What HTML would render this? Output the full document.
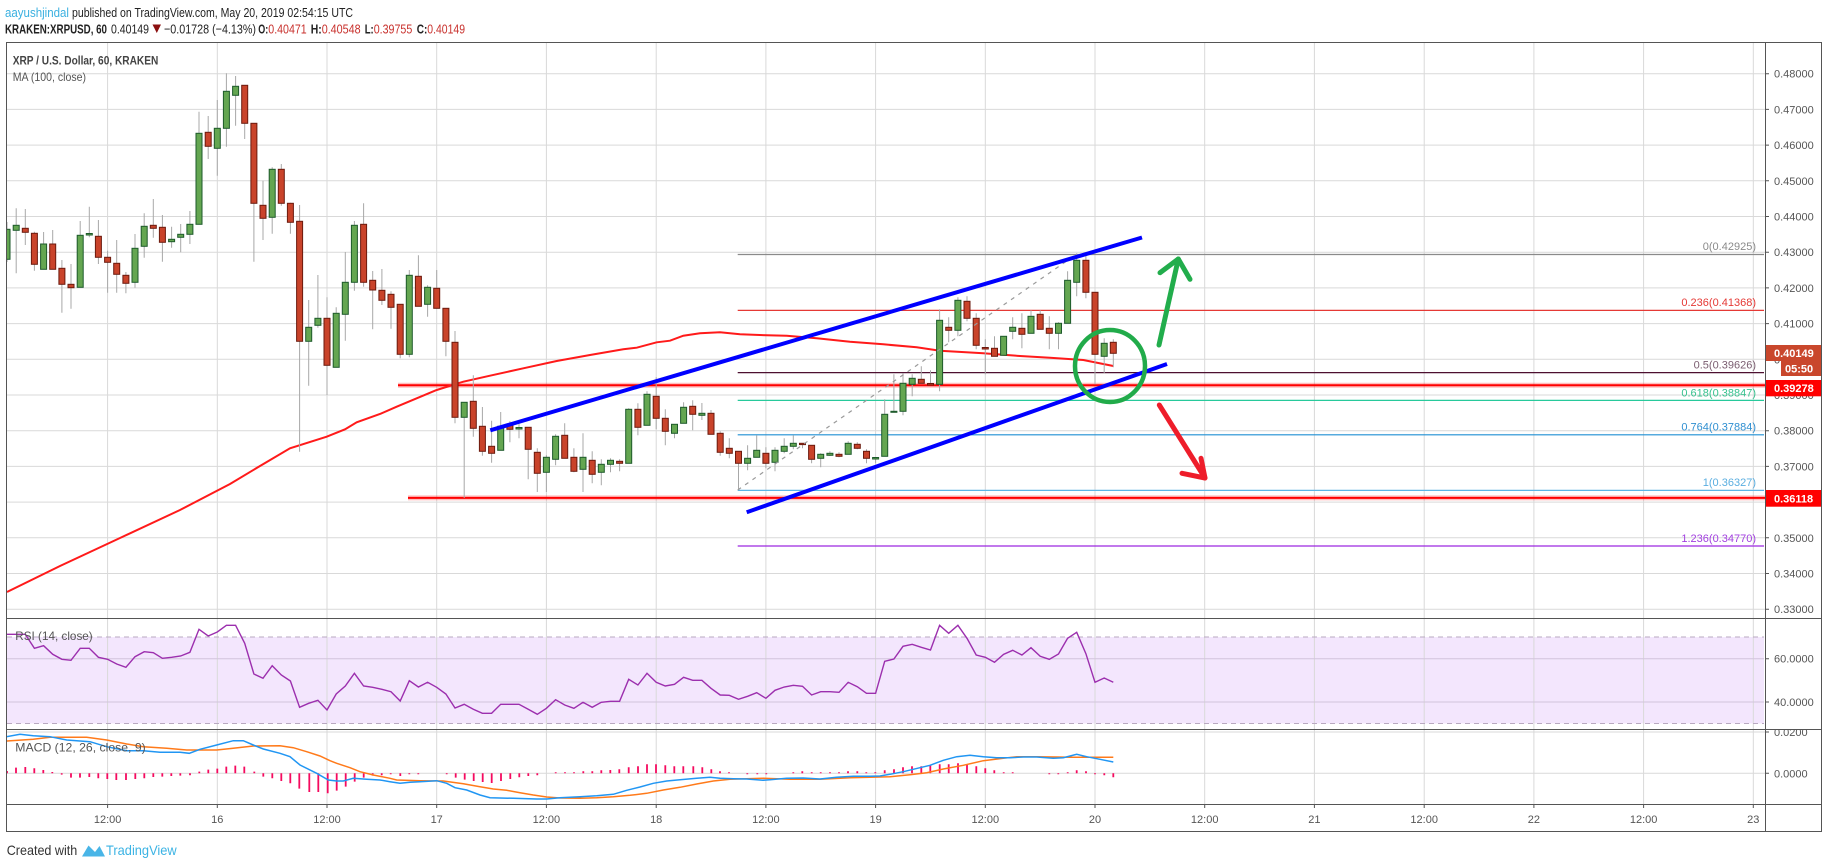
<!DOCTYPE html>
<html><head><meta charset="utf-8"><style>
html,body{margin:0;padding:0;background:#fff;}
svg{display:block;font-family:"Liberation Sans",Arial,sans-serif;}
</style></head><body>
<svg width="1828" height="868" viewBox="0 0 1828 868" xmlns="http://www.w3.org/2000/svg">
<defs>
<clipPath id="main"><rect x="7" y="43" width="1758" height="575"/></clipPath>
<clipPath id="rsi"><rect x="7" y="619" width="1758" height="110"/></clipPath>
<clipPath id="macd"><rect x="7" y="730" width="1758" height="74"/></clipPath>
<clipPath id="macdax"><rect x="1766" y="730" width="56" height="74"/></clipPath>
</defs>
<rect width="1828" height="868" fill="#fff"/>

<!-- header -->
<text x="5" y="17" font-size="13" fill="#3ab0e0" textLength="64" lengthAdjust="spacingAndGlyphs">aayushjindal</text>
<text x="72" y="17" font-size="13" fill="#222" textLength="281" lengthAdjust="spacingAndGlyphs">published on TradingView.com, May 20, 2019 02:54:15 UTC</text>
<text x="5" y="33.5" font-size="13" font-weight="bold" fill="#222" textLength="102" lengthAdjust="spacingAndGlyphs">KRAKEN:XRPUSD, 60</text>
<text x="111" y="33.5" font-size="13" fill="#222" textLength="38" lengthAdjust="spacingAndGlyphs">0.40149</text>
<polygon points="152.5,24.5 161,24.5 156.8,33" fill="#8b0f0f"/>
<text x="164" y="33.5" font-size="13" fill="#222" textLength="92" lengthAdjust="spacingAndGlyphs">−0.01728 (−4.13%)</text>
<text x="258.3" y="33.5" font-size="13" font-weight="bold" fill="#222" textLength="10" lengthAdjust="spacingAndGlyphs">O:</text>
<text x="268.3" y="33.5" font-size="13" fill="#c8302c" textLength="38.4" lengthAdjust="spacingAndGlyphs">0.40471</text>
<text x="310.7" y="33.5" font-size="13" font-weight="bold" fill="#222" textLength="11" lengthAdjust="spacingAndGlyphs">H:</text>
<text x="321.7" y="33.5" font-size="13" fill="#c8302c" textLength="39" lengthAdjust="spacingAndGlyphs">0.40548</text>
<text x="364.7" y="33.5" font-size="13" font-weight="bold" fill="#222" textLength="9" lengthAdjust="spacingAndGlyphs">L:</text>
<text x="373.7" y="33.5" font-size="13" fill="#c8302c" textLength="38.6" lengthAdjust="spacingAndGlyphs">0.39755</text>
<text x="416.7" y="33.5" font-size="13" font-weight="bold" fill="#222" textLength="10.6" lengthAdjust="spacingAndGlyphs">C:</text>
<text x="427.3" y="33.5" font-size="13" fill="#c8302c" textLength="37.7" lengthAdjust="spacingAndGlyphs">0.40149</text>

<!-- RSI band -->
<rect x="7" y="637" width="1757" height="86.5" fill="#f3e6fd"/>

<!-- grid -->
<g stroke="#d9d9d9" stroke-width="1" fill="none">
<path d="M7 73.7H1765M7 109.4H1765M7 145.1H1765M7 180.8H1765M7 216.5H1765M7 252.2H1765M7 287.9H1765M7 323.6H1765M7 359.3H1765M7 395H1765M7 430.7H1765M7 466.4H1765M7 502.1H1765M7 537.8H1765M7 573.5H1765M7 609.2H1765"/>
<path d="M7 732H1765M7 773.3H1765"/>
<path d="M107.6 43V804M217.3 43V804M327 43V804M436.7 43V804M546.4 43V804M656.2 43V804M765.9 43V804M875.6 43V804M985.3 43V804M1095 43V804M1204.7 43V804M1314.4 43V804M1424.2 43V804M1533.9 43V804M1643.6 43V804M1753.3 43V804"/>
</g>
<path d="M7 658.7H1764M7 702H1764" stroke="#d2c4dc" stroke-width="1"/>
<path d="M7 637H1764M7 723.5H1764" stroke="#b9a9c1" stroke-width="1" stroke-dasharray="5,4"/>

<!-- fib lines -->
<g stroke-width="1.2">
<line x1="737.7" y1="254.5" x2="1764" y2="254.5" stroke="#8a8a8a"/>
<line x1="737.7" y1="310.4" x2="1764" y2="310.4" stroke="#e53935"/>
<line x1="737.7" y1="372.6" x2="1764" y2="372.6" stroke="#4d1030"/>
<line x1="737.7" y1="400.4" x2="1764" y2="400.4" stroke="#27c99b"/>
<line x1="737.7" y1="434.8" x2="1764" y2="434.8" stroke="#1f8fd4"/>
<line x1="737.7" y1="490.4" x2="1764" y2="490.4" stroke="#5ab4e6"/>
<line x1="737.7" y1="546" x2="1764" y2="546" stroke="#9c27e0"/>
</g>
<g font-size="11" text-anchor="end">
<text x="1756" y="250" fill="#8a8a8a">0(0.42925)</text>
<text x="1756" y="306" fill="#e53935">0.236(0.41368)</text>
<text x="1756" y="368.5" fill="#7b5d70">0.5(0.39626)</text>
<text x="1756" y="396.5" fill="#36c28f">0.618(0.38847)</text>
<text x="1756" y="430.5" fill="#2f8fd1">0.764(0.37884)</text>
<text x="1756" y="486" fill="#5aaee0">1(0.36327)</text>
<text x="1756" y="542" fill="#a23fe0">1.236(0.34770)</text>
</g>

<g clip-path="url(#main)">
<!-- support lines -->
<line x1="398" y1="385.2" x2="1765" y2="385.2" stroke="rgba(255,0,0,0.25)" stroke-width="5"/>
<line x1="398" y1="385.2" x2="1765" y2="385.2" stroke="#ff0000" stroke-width="2"/>
<line x1="408" y1="497.9" x2="1765" y2="497.9" stroke="rgba(255,0,0,0.25)" stroke-width="5"/>
<line x1="408" y1="497.9" x2="1765" y2="497.9" stroke="#ff0000" stroke-width="2"/>
<!-- MA -->
<polyline fill="none" stroke="#ff1a1a" stroke-width="2" points="7,592 60,566 120,538 180,510 230,484 260,466 290,448.3 326.7,436.7 345,429.3 356.7,422.3 380,414 396.7,406.7 416.7,398.3 436.7,390 463.3,381.7 490,375.7 523.3,368.3 556.7,361 590,355 623.3,349.3 636.7,347.7 656.7,342.3 670,340.7 683.3,335.7 700,333.3 720,332.3 740,334.3 766.7,335.3 786.7,335.7 816.7,338.3 850,341.7 883.3,344.3 916.7,347.3 940,350.7 983.3,353.3 1020,356 1050,357.7 1083.3,360 1113.3,366"/>
<!-- wicks -->
<path fill="none" stroke="#a8a8a8" stroke-width="1" d="M7 222V262M16.2 208.3V273.3M25.3 209V245M34.4 231.7V270.7M43.6 232V269.3M52.7 230V269.3M61.9 260V312.7M71 264V308.7M80.2 221V287.3M89.3 206.7V237.3M98.4 220V264M107.6 250.7V292.7M116.7 240V292.7M125.9 272V293.3M135 234V287.7M144.2 213.3V257.7M153.3 199V237.7M162.4 215V261.7M171.6 226.7V247.7M180.7 224V252.3M189.9 211V244M199 111.7V224.3M208.2 116V159M217.3 100V175.7M226.4 73.3V146.7M235.6 76V125.7M244.7 85.3V139M253.9 123.3V261.7M263 180.7V240M272.2 167.3V233.7M281.3 164V205.7M290.4 202.7V233.7M299.6 205V451.7M308.7 300V385.7M317.9 275V327.7M327 297.3V395M336.2 307.3V367.3M345.3 252V340.7M354.4 221V290.7M363.6 203.3V286.7M372.7 271V329.3M381.9 269V305M391 291.3V328.7M400.2 304.3V358.3M409.3 270V357.3M418.4 255.3V306.3M427.6 285.3V316.7M436.7 270V308.3M445.9 308.3V356.3M455 331V423.3M464.2 402.3V498M473.3 375.3V436.7M482.4 407V455.7M491.6 420.7V462.7M500.7 412V450.3M509.9 421.3V442.3M519 423.3V438.3M528.2 427.3V479.3M537.3 448.3V492M546.4 455.3V492M555.6 434.3V465.3M564.7 423.3V458.3M573.9 448.3V472.3M583 433.3V492M592.2 451.3V483.3M601.3 459.3V485.3M610.5 458.3V472.3M619.6 459.3V471.3M628.7 408.3V463.3M637.9 403.3V435.3M647 391.3V425.3M656.2 377.3V429.3M665.3 409.3V445.3M674.5 424.3V438.3M683.6 402.3V423.3M692.7 400.3V430.3M701.9 403V420M711 410V434.3M720.2 431.3V455.7M729.3 438.3V458.3M738.5 451.3V490M747.6 445.3V470.3M756.7 435.3V457.3M765.9 447.3V468.3M775 447.3V471.3M784.2 438.3V453.3M793.3 435.3V449.3M802.5 443.3V448.3M811.6 445.3V463.3M820.7 453.3V467.3M829.9 451.3V456M839 452.3V457.3M848.2 441.3V454.3M857.3 442.3V449.3M866.5 449.3V463.3M875.6 458.3V463.3M884.7 399.3V456.3M893.9 374.3V412.3M903 373.3V415.3M912.2 374.3V396.3M921.3 366.3V383.3M930.5 370.3V384.3M939.6 309.3V391.3M948.7 317.3V342.3M957.9 297.3V336.3M967 296.3V321.3M976.2 313.3V349.3M985.3 339.3V374.3M994.5 336.3V356.3M1003.6 336.3V355.3M1012.7 317.3V339.3M1021.9 313.3V348.3M1031 310.3V333.3M1040.2 310.3V329.3M1049.3 316.3V349.3M1058.5 322.3V349.3M1067.6 271.3V323.3M1076.7 253.3V296.3M1085.9 253.3V298.3M1095 292.3V384.3M1104.2 338.3V373.3M1113.3 339.3V367.3"/>
<!-- green bodies -->
<g fill="#64a651" stroke="#1d5a2b" stroke-width="1">
<rect x="4" y="229.3" width="6" height="30"/><rect x="13.2" y="225.3" width="6" height="5"/><rect x="40.6" y="244" width="6" height="25.3"/><rect x="77.2" y="235.3" width="6" height="52"/><rect x="86.3" y="233.5" width="6" height="1.5"/><rect x="132" y="248.3" width="6" height="34"/><rect x="141.2" y="226.3" width="6" height="20"/><rect x="168.6" y="239.3" width="6" height="2.4"/><rect x="177.7" y="234.3" width="6" height="3"/><rect x="186.9" y="224.3" width="6" height="10"/><rect x="196" y="133.3" width="6" height="91"/><rect x="214.3" y="128.3" width="6" height="20"/><rect x="223.4" y="91.3" width="6" height="37"/><rect x="232.6" y="86.3" width="6" height="9"/><rect x="269.2" y="169.3" width="6" height="48"/><rect x="305.7" y="327.3" width="6" height="14"/><rect x="314.9" y="318.3" width="6" height="7"/><rect x="333.2" y="313.3" width="6" height="54"/><rect x="342.3" y="282.3" width="6" height="32"/><rect x="351.4" y="225.3" width="6" height="57"/><rect x="406.3" y="275.3" width="6" height="79"/><rect x="424.6" y="287.3" width="6" height="17"/><rect x="461.2" y="402.3" width="6" height="15"/><rect x="497.7" y="426.3" width="6" height="24"/><rect x="516" y="427.5" width="6" height="1.5"/><rect x="543.4" y="457.3" width="6" height="15"/><rect x="552.6" y="436.3" width="6" height="23"/><rect x="580" y="457.3" width="6" height="12"/><rect x="598.3" y="464.3" width="6" height="8"/><rect x="607.5" y="460.3" width="6" height="4"/><rect x="625.7" y="409.3" width="6" height="54"/><rect x="644" y="394.3" width="6" height="31"/><rect x="671.5" y="424.3" width="6" height="9"/><rect x="680.6" y="407.3" width="6" height="16"/><rect x="698.9" y="413.3" width="6" height="2"/><rect x="744.6" y="458.3" width="6" height="5"/><rect x="753.7" y="450.3" width="6" height="7"/><rect x="772" y="450.3" width="6" height="12"/><rect x="781.2" y="446.3" width="6" height="5"/><rect x="790.3" y="443.3" width="6" height="3"/><rect x="817.7" y="454.3" width="6" height="4"/><rect x="826.9" y="453.3" width="6" height="2"/><rect x="845.2" y="443.3" width="6" height="11"/><rect x="872.6" y="457.5" width="6" height="1.5"/><rect x="881.7" y="414.3" width="6" height="42"/><rect x="890.9" y="411.3" width="6" height="1"/><rect x="900" y="383.3" width="6" height="28"/><rect x="909.2" y="378.3" width="6" height="6"/><rect x="936.6" y="320.3" width="6" height="64"/><rect x="954.9" y="300.3" width="6" height="30"/><rect x="1000.6" y="336.3" width="6" height="19"/><rect x="1009.7" y="327.3" width="6" height="4"/><rect x="1028" y="316.3" width="6" height="17"/><rect x="1055.5" y="323.3" width="6" height="10"/><rect x="1064.6" y="280.3" width="6" height="43"/><rect x="1073.7" y="260.3" width="6" height="22"/><rect x="1101.2" y="343.3" width="6" height="13"/>
</g>
<!-- red bodies -->
<g fill="#c9432a" stroke="#6b1a0e" stroke-width="1">
<rect x="22.3" y="228.3" width="6" height="4"/><rect x="31.4" y="233.3" width="6" height="31"/><rect x="49.7" y="244" width="6" height="25.3"/><rect x="58.9" y="268.3" width="6" height="16"/><rect x="68" y="284.3" width="6" height="3.4"/><rect x="95.4" y="236.3" width="6" height="21"/><rect x="104.6" y="257.3" width="6" height="5"/><rect x="113.7" y="263.3" width="6" height="11"/><rect x="122.9" y="275.3" width="6" height="8"/><rect x="150.3" y="225.3" width="6" height="3"/><rect x="159.4" y="227.3" width="6" height="15"/><rect x="205.2" y="132.3" width="6" height="14"/><rect x="241.7" y="85.3" width="6" height="38"/><rect x="250.9" y="123.3" width="6" height="80"/><rect x="260" y="205.3" width="6" height="13"/><rect x="278.3" y="169.3" width="6" height="34"/><rect x="287.4" y="203.3" width="6" height="19"/><rect x="296.6" y="221.3" width="6" height="120"/><rect x="324" y="318.3" width="6" height="47"/><rect x="360.6" y="224.3" width="6" height="58"/><rect x="369.7" y="280.3" width="6" height="9.7"/><rect x="378.9" y="290.3" width="6" height="10"/><rect x="388" y="294.3" width="6" height="13"/><rect x="397.2" y="304.3" width="6" height="50"/><rect x="415.4" y="276.3" width="6" height="30"/><rect x="433.7" y="288.3" width="6" height="20"/><rect x="442.9" y="308.3" width="6" height="33"/><rect x="452" y="342.3" width="6" height="75"/><rect x="470.3" y="401.3" width="6" height="27"/><rect x="479.4" y="426.3" width="6" height="25"/><rect x="488.6" y="446.3" width="6" height="7"/><rect x="506.9" y="425.3" width="6" height="4"/><rect x="525.2" y="427.3" width="6" height="22"/><rect x="534.3" y="452.3" width="6" height="21"/><rect x="561.7" y="435.3" width="6" height="23"/><rect x="570.9" y="457.3" width="6" height="14"/><rect x="589.2" y="460.3" width="6" height="14"/><rect x="616.6" y="461.3" width="6" height="2"/><rect x="634.9" y="409.3" width="6" height="18"/><rect x="653.2" y="396.3" width="6" height="22"/><rect x="662.3" y="418.3" width="6" height="13"/><rect x="689.7" y="406.3" width="6" height="8"/><rect x="708" y="413.3" width="6" height="21"/><rect x="717.2" y="433.3" width="6" height="19"/><rect x="726.3" y="448.3" width="6" height="5"/><rect x="735.5" y="451.3" width="6" height="12"/><rect x="762.9" y="453.3" width="6" height="10"/><rect x="799.5" y="443.3" width="6" height="1.3"/><rect x="808.6" y="445.3" width="6" height="14"/><rect x="836" y="454.3" width="6" height="2"/><rect x="854.3" y="444.3" width="6" height="4"/><rect x="863.5" y="451.3" width="6" height="7"/><rect x="918.3" y="379.3" width="6" height="4"/><rect x="927.5" y="383.5" width="6" height="1.5"/><rect x="945.7" y="327.3" width="6" height="3"/><rect x="964" y="301.3" width="6" height="17"/><rect x="973.2" y="318.3" width="6" height="27"/><rect x="982.3" y="347.5" width="6" height="1.5"/><rect x="991.5" y="348.3" width="6" height="8"/><rect x="1018.9" y="328.3" width="6" height="6"/><rect x="1037.2" y="314.3" width="6" height="15"/><rect x="1046.3" y="328.3" width="6" height="5"/><rect x="1082.9" y="260.3" width="6" height="32"/><rect x="1092" y="292.3" width="6" height="62"/><rect x="1110.3" y="342.3" width="6" height="11"/>
</g>
<!-- fib diagonal -->
<line x1="737.7" y1="490" x2="1076.7" y2="254" stroke="#9a9a9a" stroke-width="1.2" stroke-dasharray="4,5"/>
<!-- channel -->
<line x1="490.3" y1="430.3" x2="1142" y2="237.5" stroke="#0000ff" stroke-width="4"/>
<line x1="746.7" y1="512.3" x2="1167" y2="364" stroke="#0000ff" stroke-width="4"/>
<!-- circle -->
<ellipse cx="1110" cy="366" rx="35" ry="36" fill="none" stroke="#21ab4a" stroke-width="4.5"/>
<!-- arrows -->
<g fill="none" stroke="#22ad4c" stroke-width="5" stroke-linecap="round" stroke-linejoin="round">
<line x1="1159" y1="345" x2="1178.3" y2="259"/>
<polyline points="1160,272.7 1178.3,259 1190,279.3"/>
</g>
<g fill="none" stroke="#ee1d2a" stroke-width="5" stroke-linecap="round" stroke-linejoin="round">
<line x1="1159.3" y1="405" x2="1205" y2="478"/>
<polyline points="1182,473.3 1205,478 1201,458.3"/>
</g>
</g>

<!-- chart titles -->
<text x="12.7" y="64.5" font-size="12" font-weight="bold" fill="#444" textLength="145.6" lengthAdjust="spacingAndGlyphs">XRP / U.S. Dollar, 60, KRAKEN</text>
<text x="12.7" y="81" font-size="12" fill="#555" textLength="73.3" lengthAdjust="spacingAndGlyphs">MA (100, close)</text>

<!-- RSI -->
<g clip-path="url(#rsi)">
<polyline fill="none" stroke="#9c2fae" stroke-width="1.4" points="7,634.3 16.2,634.3 25.3,634.3 34.4,648.3 43.6,645.7 52.7,654.3 61.9,659.3 71,660.3 80.2,648.3 89.3,648.3 98.4,657.3 107.6,659.3 116.7,664 125.9,667.3 135,656.7 144.2,651.7 153.3,652.7 162.4,658.3 171.6,657.3 180.7,656 189.9,652.3 199,629.3 208.2,636 217.3,632 226.4,625.3 235.6,625.3 244.7,643.3 253.9,674 263,678.3 272.2,665.7 281.3,675 290.4,681 299.6,707.3 308.7,703.3 317.9,700.3 327,710 336.2,694 345.3,686 354.4,673.3 363.6,686 372.7,687.3 381.9,689.3 391,691.7 400.2,701 409.3,680.7 418.4,687 427.6,682.3 436.7,687.3 445.9,694 455,708 464.2,704.3 473.3,709.3 482.4,713.3 491.6,713.3 500.7,704.3 509.9,704.3 519,704.3 528.2,709.3 537.3,714.3 546.4,708.3 555.6,699.7 564.7,705 573.9,708.3 583,702.3 592.2,707.3 601.3,702.3 610.5,701.3 619.6,701.3 628.7,679.3 637.9,685 647,673.3 656.2,682.3 665.3,686 674.5,684.3 683.6,677.3 692.7,680.3 701.9,680.3 711,688.3 720.2,695 729.3,695.3 738.5,699.3 747.6,696.3 756.7,692.7 765.9,698.3 775,690.3 784.2,687 793.3,685.3 802.5,686.3 811.6,695 820.7,691.7 829.9,691.7 839,692.3 848.2,682.3 857.3,686.7 866.5,693.3 875.6,693.3 884.7,661.3 893.9,659 903,646.3 912.2,644.3 921.3,647.3 930.5,650 939.6,625.3 948.7,633.3 957.9,625.3 967,638.3 976.2,655 985.3,657.3 994.5,662.3 1003.6,654.3 1012.7,650.3 1021.9,655 1031,647.7 1040.2,656.3 1049.3,659.3 1058.5,654 1067.6,638.3 1076.7,632.3 1085.9,653.7 1095,682.3 1104.2,678 1113.3,682.3"/>
</g>
<text x="15.3" y="640" font-size="12" fill="#555" textLength="77.4" lengthAdjust="spacingAndGlyphs">RSI (14, close)</text>

<!-- MACD -->
<g clip-path="url(#macd)">
<path fill="none" stroke="#f50a5f" stroke-width="1.8" d="M7 773.3v-2.3M16 773.3v-5.7M25.3 773.3v-6.3M34.3 773.3v-5M43.3 773.3v-3.3M52.3 773.3v-1.3M61.7 773.3v1.3M71 773.3v4.3M80 773.3v4.3M89.3 773.3v3.7M98.3 773.3v5M107.3 773.3v5.7M116.3 773.3v6.7M126 773.3v6.7M135.3 773.3v5.7M144.3 773.3v5M153.3 773.3v3.7M162.3 773.3v3.3M171.3 773.3v2.7M180.3 773.3v2.3M190 773.3v2M199.3 773.3v-1.7M208.3 773.3v-3.7M217.3 773.3v-4.7M226.3 773.3v-6.7M235.3 773.3v-7.7M244.3 773.3v-6.7M254.3 773.3v-1.7M263.3 773.3v3.3M272.3 773.3v5M281.3 773.3v7.7M290.3 773.3v10M299.3 773.3v15.3M309.3 773.3v18.7M318.3 773.3v18.7M327.7 773.3v20M336.7 773.3v17.3M345.7 773.3v13.3M354.7 773.3v8.3M363.7 773.3v4.3M372.7 773.3v2.3M381.7 773.3v2M390.7 773.3v1M400.3 773.3v2.7M409.3 773.3v1M418.3 773.3v1M446.7 773.3v1M455.7 773.3v4.3M464.7 773.3v6.3M473.7 773.3v7.7M482.7 773.3v8.7M491.7 773.3v9.7M501 773.3v7.7M510.3 773.3v5.7M519.3 773.3v4M528.3 773.3v2.7M537.3 773.3v2M555.7 773.3v-1M565 773.3v-1M574 773.3v-1M583.3 773.3v-2M592.3 773.3v-2M601.3 773.3v-3M610.3 773.3v-3.3M619.3 773.3v-4M628.7 773.3v-6M638 773.3v-7M647 773.3v-9M656 773.3v-9M665.3 773.3v-8M674.3 773.3v-7M683.3 773.3v-7M693.3 773.3v-7M702.3 773.3v-6M711.3 773.3v-4M720 773.3v-2M729 773.3v-1M747.3 773.3v1M757.3 773.3v1M766.3 773.3v1M793.3 773.3v-1M802.3 773.3v-2M811.7 773.3v-1M820.7 773.3v-1M830 773.3v-1M839 773.3v-1M848 773.3v-2M857.3 773.3v-2M866.3 773.3v-1M875.3 773.3v-1M884.7 773.3v-3M894 773.3v-4M903 773.3v-6M912 773.3v-7M921.3 773.3v-7M930.3 773.3v-8M939.7 773.3v-9M948.7 773.3v-9M958 773.3v-10M967 773.3v-9M976.3 773.3v-7M985.3 773.3v-5M994.3 773.3v-3M1003.7 773.3v-1M1012.7 773.3v-1M1049.3 773.3v1M1058.3 773.3v1M1067.7 773.3v-1M1076.7 773.3v-3M1086 773.3v-2M1095 773.3v1M1104.3 773.3v2M1113.3 773.3v4"/>
<polyline fill="none" stroke="#ff7a1a" stroke-width="1.5" points="6.7,741 33.3,739.3 50,737.3 86.7,737.3 106.7,740 126.7,744 143.3,746.7 166.7,748.3 186.7,750 216.7,750 233.3,748.3 253.3,746 280,745.7 293.3,747.7 306.7,751.7 320,756 330,760.7 336.7,763.3 350,767.7 360,771.7 373.3,775 390,778.3 396.7,780 420,780.7 443.3,781 463.3,783.7 480,786.7 493.3,789 506.7,790.3 520,792.7 533.3,795 546.7,797 560,798 580,798.3 596.7,797.7 613.3,796.7 630,795.3 646.7,793.3 663.3,790 680,787.3 696.7,784 713.3,781 730,779.3 746.7,778.7 763.3,778.3 790,779.3 820,779.3 850,777.7 870,777.3 890,776.7 910,774.7 926.7,772.7 943.3,769 963.3,765.3 983.3,760.7 1003.3,758.3 1016.7,756.7 1036.7,756.7 1056.7,757 1070,757.3 1086.7,757.3 1113.3,757.3"/>
<polyline fill="none" stroke="#2196f3" stroke-width="1.5" points="6.7,736.7 20,734.3 33.3,735.7 50,736.7 66.7,740 90,741.7 106.7,746.7 126.7,750.7 143.3,750.7 160,752.3 180,752.3 189.3,753.3 200,749.3 216.7,745 233.3,740.7 243.3,740.7 253.3,745 263.3,749 280,753.3 290,756.7 300,765 316.7,773.3 328.3,780 336.7,781 343.3,781 353.3,778.3 366.7,779.3 380,780 390,781.7 400,783.3 410,782.3 420,781.7 436.7,780.7 446.7,783.3 455,787.7 466.7,790 480,795 490,797.7 513.3,798.3 536.7,799 546.7,799 560,797.7 580,796.7 596.7,795.7 613.3,794.3 626.7,790.3 640,787 653.3,783.3 666.7,781 680,779.7 696.7,778.3 710,777.3 720,778.3 733.3,778.7 746.7,779 763.3,780.3 770,779.7 786.7,778.3 803.3,778 820,779 836.7,777.3 853.3,776.3 870,776.3 880,776 890,774.3 903.3,771.7 920,767.7 930,765.3 943.3,760.3 956.7,756.7 970,755.3 983.3,756.7 996.7,757.7 1010,757.7 1023.3,757 1036.7,757 1053.3,758.3 1063.3,757.7 1076.7,754.3 1086.7,756.7 1100,759.3 1113.3,762"/>
</g>
<text x="15.3" y="751.5" font-size="12" fill="#555" textLength="130.4" lengthAdjust="spacingAndGlyphs">MACD (12, 26, close, 9)</text>

<!-- borders -->
<g stroke="#555" stroke-width="1" fill="none">
<path d="M6.5 42.5H1821.5V831.5H6.5Z"/>
<path d="M1765.5 42.5V831.5"/>
<path d="M6.5 618.5H1821.5M6.5 729.5H1821.5M6.5 804.5H1821.5"/>
</g>

<!-- price axis -->
<g stroke="#555" stroke-width="1">
<path d="M1765 73.7h4M1765 109.4h4M1765 145.1h4M1765 180.8h4M1765 216.5h4M1765 252.2h4M1765 287.9h4M1765 323.6h4M1765 359.3h4M1765 395h4M1765 430.7h4M1765 466.4h4M1765 502.1h4M1765 537.8h4M1765 573.5h4M1765 609.2h4M1765 658.7h4M1765 702h4M1765 732h4M1765 773.3h4"/>
<path d="M107.6 805v3M217.3 805v3M327 805v3M436.7 805v3M546.4 805v3M656.2 805v3M765.9 805v3M875.6 805v3M985.3 805v3M1095 805v3M1204.7 805v3M1314.4 805v3M1424.2 805v3M1533.9 805v3M1643.6 805v3M1753.3 805v3"/>
</g>
<g font-size="11" fill="#555">
<text x="1774" y="77.7">0.48000</text>
<text x="1774" y="113.4">0.47000</text>
<text x="1774" y="149.1">0.46000</text>
<text x="1774" y="184.8">0.45000</text>
<text x="1774" y="220.5">0.44000</text>
<text x="1774" y="256.2">0.43000</text>
<text x="1774" y="291.9">0.42000</text>
<text x="1774" y="327.6">0.41000</text>
<text x="1774" y="363.3">0.40000</text>
<text x="1774" y="399">0.39000</text>
<text x="1774" y="434.7">0.38000</text>
<text x="1774" y="470.4">0.37000</text>
<text x="1774" y="506.1">0.36000</text>
<text x="1774" y="541.8">0.35000</text>
<text x="1774" y="577.5">0.34000</text>
<text x="1774" y="613.2">0.33000</text>
<text x="1774" y="662.7">60.0000</text>
<text x="1774" y="706">40.0000</text>
<g clip-path="url(#macdax)"><text x="1774" y="736">0.0200</text></g>
<text x="1774" y="777.3">0.0000</text>
</g>
<!-- price tags -->
<rect x="1766" y="345" width="55" height="16" fill="#c9472c"/>
<rect x="1781" y="361" width="40" height="15" fill="#c9472c"/>
<rect x="1766" y="380" width="55" height="16.3" fill="#ff0000"/>
<rect x="1766" y="490" width="55" height="16.7" fill="#ff0000"/>
<g font-size="11" font-weight="bold" fill="#fff">
<text x="1774" y="357">0.40149</text>
<text x="1785" y="372.5">05:50</text>
<text x="1774" y="392">0.39278</text>
<text x="1774" y="502.3">0.36118</text>
</g>

<!-- time axis labels -->
<g font-size="11" fill="#555" text-anchor="middle">
<text x="107.6" y="823">12:00</text><text x="217.3" y="823">16</text><text x="327" y="823">12:00</text><text x="436.7" y="823">17</text><text x="546.4" y="823">12:00</text><text x="656.2" y="823">18</text><text x="765.9" y="823">12:00</text><text x="875.6" y="823">19</text><text x="985.3" y="823">12:00</text><text x="1095" y="823">20</text><text x="1204.7" y="823">12:00</text><text x="1314.4" y="823">21</text><text x="1424.2" y="823">12:00</text><text x="1533.9" y="823">22</text><text x="1643.6" y="823">12:00</text><text x="1753.3" y="823">23</text>
</g>

<!-- footer -->
<text x="6.7" y="855" font-size="14" fill="#333" textLength="70.6" lengthAdjust="spacingAndGlyphs">Created with</text>
<path d="M82 856.5 L88.5 845.5 L95 852 L99.5 846 L105 856.5 Z" fill="#49b5e7"/>
<text x="106" y="855" font-size="14" fill="#3bb3e4" textLength="70.7" lengthAdjust="spacingAndGlyphs">TradingView</text>
</svg>
</body></html>
